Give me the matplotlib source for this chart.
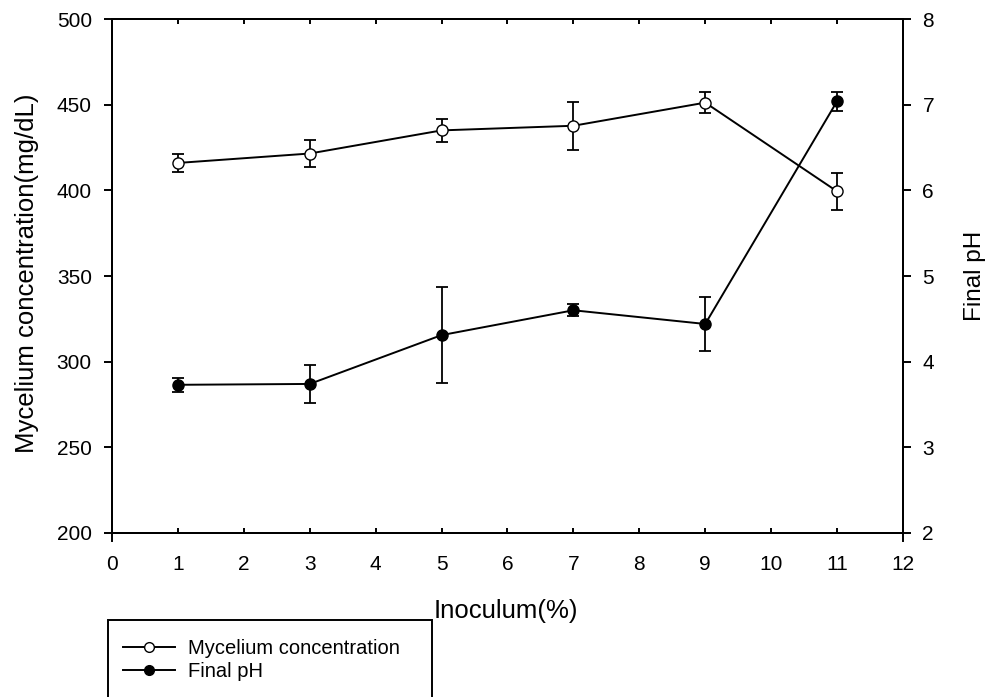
import numpy as np
import matplotlib.pyplot as plt
from matplotlib.lines import Line2D
from matplotlib.patches import Rectangle

plt.rcParams['font.family'] = ['Liberation Sans', 'DejaVu Sans']

# Data
inoculum = [1, 3, 5, 7, 9, 11]
mycelium = [416, 421.5, 435, 437.7, 451.2, 399.4]
mycelium_err = [5.5, 7.7, 6.6, 14, 6.3, 11]
final_ph = [3.73, 3.74, 4.31, 4.60, 4.44, 7.04]
final_ph_err = [0.08, 0.22, 0.56, 0.07, 0.31, 0.11]

LW = 1.4
fig = plt.figure(figsize=(9.86, 6.97), dpi=100)
ax = fig.add_axes([0.1136, 0.2353, 0.8022, 0.7374])
ax2 = ax.twinx()

style = dict(fmt='-o', color='black', mec='black', ms=8, lw=LW,
             elinewidth=1.3, capsize=4.3, capthick=1.3, zorder=3)
ax.errorbar(inoculum, mycelium, yerr=mycelium_err, mfc='white', **style)
ax2.errorbar(inoculum, final_ph, yerr=final_ph_err, mfc='black', **style)

ax.set_xlim(0, 12)
ax.set_ylim(200, 500)
ax2.set_ylim(2, 8)
ax.set_xticks(range(0, 13))
ax.set_yticks(range(200, 501, 50))
ax2.set_yticks(range(2, 9))

ax.tick_params(axis='x', direction='in', length=3.4, width=LW, pad=16,
               labelsize=15, top=True)
ax.tick_params(axis='y', direction='out', length=6, width=LW, pad=8.5,
               labelsize=15)
ax2.tick_params(axis='y', direction='out', length=6, width=LW, pad=8,
                labelsize=15)
for a in (ax, ax2):
    for s in a.spines.values():
        s.set_linewidth(LW)
# both y axis lines run a little below the x axis, as in the original
ax.spines['left'].set_bounds(195.5, 500)
ax2.spines['right'].set_bounds(1.91, 8)

ax.set_xlabel('Inoculum(%)', fontsize=18.5)
ax.set_ylabel('Mycelium concentration(mg/dL)', fontsize=18.5)
ax2.set_ylabel('Final pH', fontsize=17.5)
ax.xaxis.set_label_coords(0.4975, -0.128)
ax.yaxis.set_label_coords(-0.092, 0.506)
ax2.yaxis.set_label_coords(1.077, 0.5)

# legend below the axes, frame runs past the figure bottom
handles = [
    Line2D([], [], color='black', marker='o', mfc='white', mec='black', ms=7, lw=LW),
    Line2D([], [], color='black', marker='o', mfc='black', mec='black', ms=7, lw=LW),
]
fig.legend(handles, ['Mycelium concentration', 'Final pH'], loc='upper left',
           bbox_to_anchor=(0.1167, 0.095), frameon=False, fontsize=14.5,
           handlelength=2.6, handletextpad=0.62, labelspacing=0.2,
           borderaxespad=0)
fig.patches.append(Rectangle((108 / 986, -0.05), 324 / 986, 0.05 + 77 / 697,
                             transform=fig.transFigure, fill=False,
                             edgecolor='black', lw=LW))

fig.savefig('out.png', dpi=100)
